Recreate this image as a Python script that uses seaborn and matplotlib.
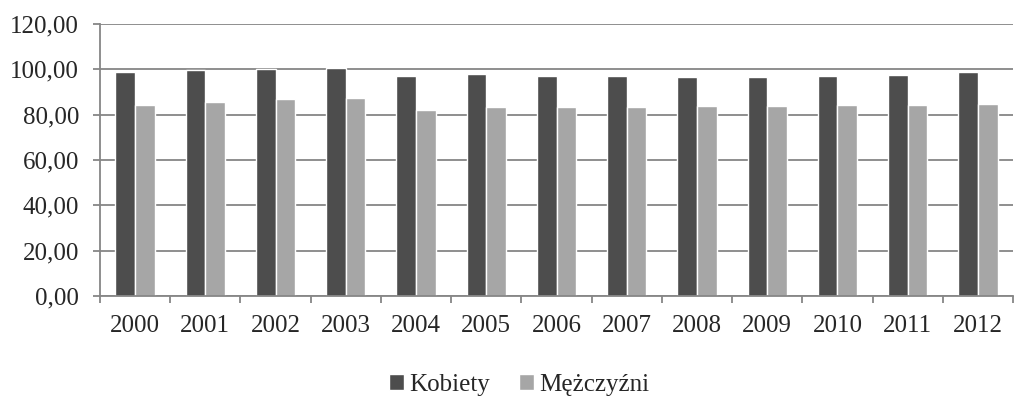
import numpy as np
import pandas as pd
import matplotlib
matplotlib.use("Agg")
import matplotlib.pyplot as plt
from matplotlib.ticker import FuncFormatter
import seaborn as sns

years = [str(y) for y in range(2000, 2013)]
kobiety = [98.7, 99.6, 100.0, 100.4, 97.2, 97.8, 97.0, 97.0, 96.6, 96.7, 97.2, 97.6, 98.8]
mezczyzni = [84.3, 85.5, 86.7, 87.2, 82.1, 83.3, 83.3, 83.5, 83.7, 84.0, 84.3, 84.1, 84.6]
series_names = ["Kobiety", "Mężczyźni"]
colors = ["#4d4d4d", "#a6a6a6"]

df = pd.DataFrame({
    "rok": years * 2,
    "wartosc": kobiety + mezczyzni,
    "plec": [series_names[0]] * len(years) + [series_names[1]] * len(years),
})

sns.set_style("white")
plt.rcParams["font.family"] = ["Liberation Serif", "DejaVu Serif"]

fig = plt.figure(figsize=(10.24, 4.04), dpi=100)
ax = fig.add_axes([100 / 1024, 1 - 296 / 404, 913 / 1024, 272 / 404])

sns.barplot(data=df, x="rok", y="wartosc", hue="plec", palette=colors,
            width=0.56, gap=0, saturation=1, ax=ax, legend=True)

grid_col = "#868686"
ax.set_ylim(0, 120)
ax.set_xlim(-0.5, len(years) - 0.5)
ax.set_yticks(np.arange(0, 121, 20))
ax.yaxis.set_major_formatter(FuncFormatter(lambda v, p: f"{v:.2f}".replace(".", ",")))
ax.yaxis.grid(True, color=grid_col, linewidth=1.3)
ax.set_axisbelow(True)

ax.set_xticks(np.arange(-0.5, len(years)), minor=True)
ax.tick_params(axis="x", which="major", length=0, pad=14, labelsize=18)
ax.tick_params(axis="x", which="minor", length=5, width=1.3, color=grid_col, bottom=True)
ax.tick_params(axis="y", length=5, width=1.3, color=grid_col, pad=10, labelsize=18, left=True)

for s in ["top", "right"]:
    ax.spines[s].set_visible(False)
for s in ["left", "bottom"]:
    ax.spines[s].set_color(grid_col)
    ax.spines[s].set_linewidth(1.3)

ax.set_xlabel("")
ax.set_ylabel("")

handles, labels = ax.get_legend_handles_labels()
ax.get_legend().remove()
fig.legend(handles, labels, loc="center", bbox_to_anchor=(0.507, 0.047), ncol=2,
           frameon=False, fontsize=18, handlelength=0.6, handleheight=0.6,
           handletextpad=0.2, columnspacing=1.2)

fig.savefig("out.png", dpi=100)
